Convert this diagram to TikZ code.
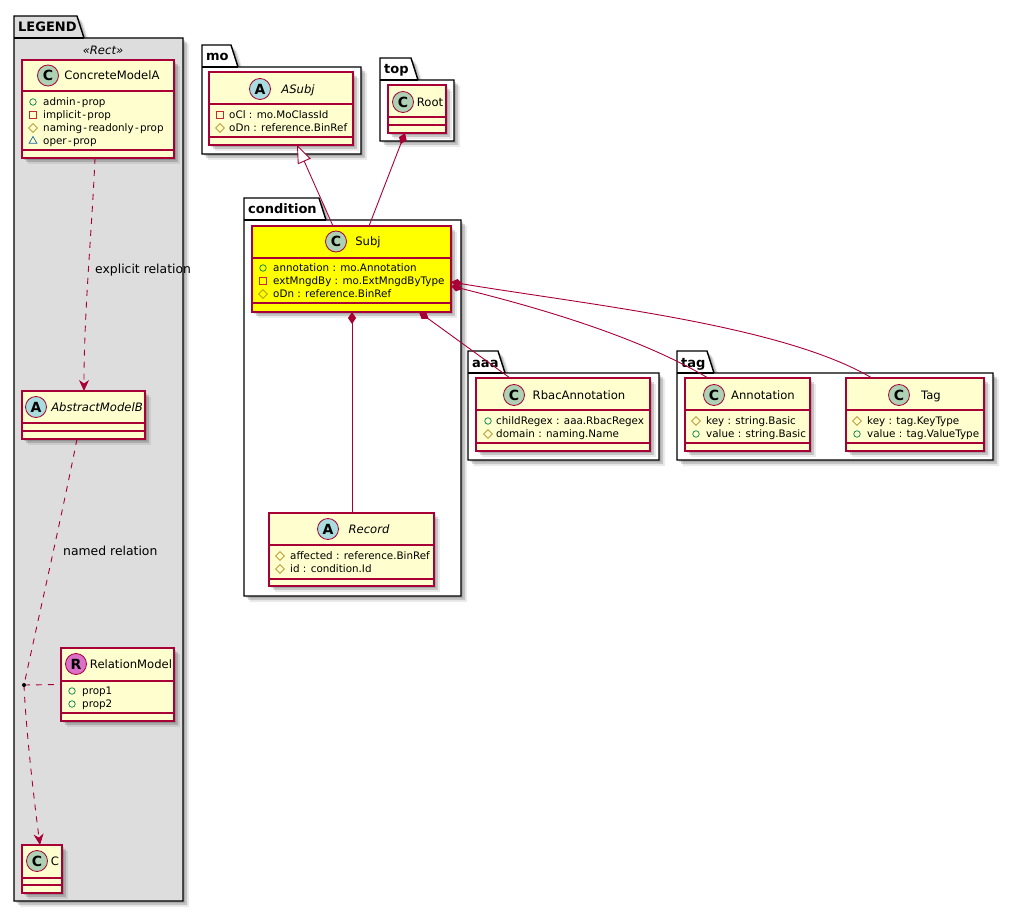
\documentclass[tikz,border=0pt]{standalone}
\usepackage{fontspec}
\setmainfont{DejaVu Sans}
\usetikzlibrary{positioning,calc,arrows.meta,shadows,shapes.geometric}
\definecolor{umlred}{HTML}{A80036}
\definecolor{umlcream}{HTML}{FEFECE}
\definecolor{umlgray}{HTML}{DDDDDD}
\definecolor{umlyellow}{HTML}{FFFF00}
\definecolor{spotC}{HTML}{ADD1B2}
\definecolor{spotA}{HTML}{A9DCDF}
\definecolor{spotR}{HTML}{DA70C8}
\definecolor{pubgreen}{HTML}{038048}
\definecolor{privred}{HTML}{C82930}
\definecolor{protgold}{HTML}{B38D22}
\definecolor{pkgblue}{HTML}{1963A0}
\newcommand{\hy}{\kern1.3pt-\kern1.3pt\relax}
\tikzset{
softshadow/.style={general shadow={shadow xshift=2pt,shadow yshift=-2pt,fill=black,opacity=.14},
general shadow={shadow xshift=4pt,shadow yshift=-4pt,fill=black,opacity=.16},
general shadow={shadow xshift=6pt,shadow yshift=-6pt,fill=black,opacity=.08}},
classbody/.style={rectangle,draw=umlred,line width=1.15pt,fill=umlcream,anchor=north west,inner sep=0pt,outer sep=0pt,softshadow},
classrule/.style={draw=umlred,line width=1.15pt},
pkgline/.style={draw=black,line width=1.4pt,line join=miter},
pkgtitle/.style={anchor=base west,inner sep=0pt,font=\fontsize{13}{15}\selectfont\bfseries},
spot/.style={circle,draw=umlred,line width=.8pt,minimum size=21pt,inner sep=0pt,font=\fontsize{14}{15}\selectfont\bfseries},
ctitle/.style={anchor=base,inner sep=0pt,font=\fontsize{11.6}{14}\selectfont},
atitle/.style={anchor=base,inner sep=0pt,font=\fontsize{11.6}{14}\selectfont\itshape},
member/.style={anchor=base west,inner sep=0pt,font=\fontsize{10.35}{12}\selectfont},
pubmark/.style={circle,draw=pubgreen,line width=.7pt,minimum size=6.5pt,inner sep=0pt},
privmark/.style={rectangle,draw=privred,line width=.7pt,minimum size=6.5pt,inner sep=0pt},
protmark/.style={diamond,draw=protgold,line width=.7pt,minimum size=9pt,inner sep=0pt},
pkgmark/.style={regular polygon,regular polygon sides=3,draw=pkgblue,line width=.7pt,minimum size=9pt,inner sep=0pt},
relline/.style={draw=umlred,line width=.9pt},
dashline/.style={relline,dash pattern=on 6pt off 6pt},
hatend/.style={-{Stealth[length=11pt,width=10pt,inset=3.5pt,umlred]}},
partof/.style={relline,{Diamond[length=12pt,width=8pt,umlred]}-},
isa/.style={relline,{Triangle[open,length=18pt,width=14pt,fill=white,umlred]}-},
wiretext/.style={anchor=base west,inner sep=0pt,font=\fontsize{12.4}{14}\selectfont},
jointdot/.style={circle,fill=black,minimum size=4pt,inner sep=0pt}
}
% name, left, top, right, bottom, tab top, tab right, fill, label
\newcommand{\umlpackage}[9]{
\path[pkgline,fill=#8,softshadow] (#2,#3) -- (#2,#6) -- (#7,#6) -- (#7+7,#3) -- (#4,#3) -- (#4,#5) -- (#2,#5) -- cycle;
\draw[pkgline] (#2,#3) -- (#7+7,#3);
\node[pkgtitle] (#1) at (#2+4,#3-6) {#9};
}
% name, left, top, width, height, first rule, second rule, extra
\newcommand{\umlclass}[8]{
\node[classbody,minimum width=#4pt,minimum height=#5pt,#8] (#1) at (#2,#3) {};
\draw[classrule] ([yshift=-#6pt]#1.north west) -- ([yshift=-#6pt]#1.north east);
\draw[classrule] ([yshift=-#7pt]#1.north west) -- ([yshift=-#7pt]#1.north east);
}
% name, spot x, y, spot colour, letter, title x, title style, title
\newcommand{\umlhead}[8]{
\node[spot,fill=#4] (#1-spot) at (#2,#3) {#5};
\node[#7] (#1-title) at (#6,#3+4.3) {#8};
}
% name, mark x, text x, first y, list of mark/text
\newcommand{\umlmembers}[5]{
\foreach \kind/\txt [count=\ni] in {#5} {
\node[style=\kind] (#1-mark\ni) at (#2,{#4+13*(\ni-1)}) {};
\node[member] (#1-text\ni) at (#3,{#4+3.8+13*(\ni-1)}) {\txt};
}
}
\begin{document}
\begin{tikzpicture}[x=1pt,y=-1pt]
\useasboundingbox (0,0) rectangle (1013,912);
% packages
\umlpackage{legendpkg}{14}{38}{183}{901}{16}{77}{umlgray}{LEGEND}
\umlpackage{mopkg}{202}{67}{361}{154}{45}{231}{white}{mo}
\umlpackage{toppkg}{380}{80}{454}{141}{58}{411}{white}{top}
\umlpackage{condpkg}{244}{220}{461}{596}{198}{319}{white}{condition}
\umlpackage{aaapkg}{468}{373}{659}{460}{351}{498}{white}{aaa}
\umlpackage{tagpkg}{677}{373}{993}{460}{351}{707}{white}{tag}
\node[atitle] (stereo) at (103,54.3) {«Rect»};
% legend
\umlclass{concrete}{22}{60}{152}{98}{31}{90}{}
\umlhead{concrete}{48}{75.5}{spotC}{C}{112}{ctitle}{ConcreteModelA}
\umlmembers{concrete}{33}{43}{102}{pubmark/admin\hy prop,privmark/implicit\hy prop,protmark/naming\hy readonly\hy prop,pkgmark/oper\hy prop}
\umlclass{abstractb}{22}{391}{123}{48}{32}{40}{}
\umlhead{abstractb}{36}{407}{spotA}{A}{97}{atitle}{AbstractModelB}
\umlclass{relmodel}{61}{648}{113}{73}{33}{65}{}
\umlhead{relmodel}{76}{664}{spotR}{R}{131}{ctitle}{RelationModel}
\umlmembers{relmodel}{72}{82}{691}{pubmark/prop1,pubmark/prop2}
\umlclass{cmodel}{22}{845}{40}{48}{33}{40}{}
\umlhead{cmodel}{37}{861}{spotC}{C}{55}{ctitle}{C}
\coordinate (relpoint) at (24,685);
% mo and top
\umlclass{asubj}{209}{72}{144}{73}{32}{65}{}
\umlhead{asubj}{260}{89}{spotA}{A}{298}{atitle}{ASubj}
\umlmembers{asubj}{220}{229}{115}{privmark/oCl : mo.MoClassId,protmark/oDn : reference.BinRef}
\umlclass{root}{388}{85}{58}{48}{32}{40}{}
\umlhead{root}{403}{102}{spotC}{C}{430}{ctitle}{Root}
% condition
\umlclass{subj}{252}{226}{199}{86}{32}{77}{fill=umlyellow}
\umlhead{subj}{336}{241.5}{spotC}{C}{368}{ctitle}{Subj}
\umlmembers{subj}{263}{273}{268}{pubmark/annotation : mo.Annotation,privmark/extMngdBy : mo.ExtMngdByType,protmark/oDn : reference.BinRef}
\umlclass{record}{269}{513}{165}{73}{32}{66}{}
\umlhead{record}{328}{529}{spotA}{A}{369}{atitle}{Record}
\umlmembers{record}{280}{290}{556}{protmark/affected : reference.BinRef,protmark/id : condition.Id}
% aaa and tag
\umlclass{rbac}{476}{378}{174}{73}{32}{65}{}
\umlhead{rbac}{514}{395}{spotC}{C}{579}{ctitle}{RbacAnnotation}
\umlmembers{rbac}{488}{496}{421}{pubmark/childRegex : aaa.RbacRegex,protmark/domain : naming.Name}
\umlclass{annot}{685}{378}{125}{73}{32}{65}{}
\umlhead{annot}{714}{395}{spotC}{C}{763}{ctitle}{Annotation}
\umlmembers{annot}{696}{706}{421}{protmark/key : string.Basic,pubmark/value : string.Basic}
\umlclass{tagclass}{846}{378}{138}{73}{32}{65}{}
\umlhead{tagclass}{899}{395}{spotC}{C}{931}{ctitle}{Tag}
\umlmembers{tagclass}{857}{867}{421}{protmark/key : tag.KeyType,pubmark/value : tag.ValueType}
% relations
\draw[dashline,hatend] ([xshift=-3pt]concrete.south) .. controls (92,230) and (84,310) .. ([xshift=.5pt]abstractb.north);
\node[wiretext] (explicitlabel) at (95,274) {explicit relation};
\draw[dashline] ([xshift=-6.5pt]abstractb.south) .. controls (63,510) and (38,620) .. (relpoint);
\draw[dashline,hatend] (relpoint) .. controls (26,730) and (34,800) .. ([xshift=-2pt]cmodel.north);
\node[wiretext] (namedlabel) at (63,555) {named relation};
\draw[dashline] (relpoint) -- (relmodel.west);
\node[jointdot] (relpointdot) at (relpoint) {};
\draw[isa] ([xshift=16pt]asubj.south) -- ([xshift=-18.5pt]subj.north);
\draw[partof] ([xshift=-12pt]root.south) -- ([xshift=17.5pt]subj.north);
\draw[partof] ([xshift=.5pt]subj.south) -- ([xshift=.5pt]record.north);
\draw[partof] ([xshift=67.5pt]subj.south) -- ([xshift=-53pt]rbac.north);
\draw[partof] ([yshift=-17pt]subj.east) .. controls (540,308) and (639,337) .. ([xshift=-39.5pt]annot.north);
\draw[partof] ([yshift=-13pt]subj.east) .. controls (590,305) and (782,325) .. ([xshift=-43pt]tagclass.north);
\end{tikzpicture}
\end{document}
